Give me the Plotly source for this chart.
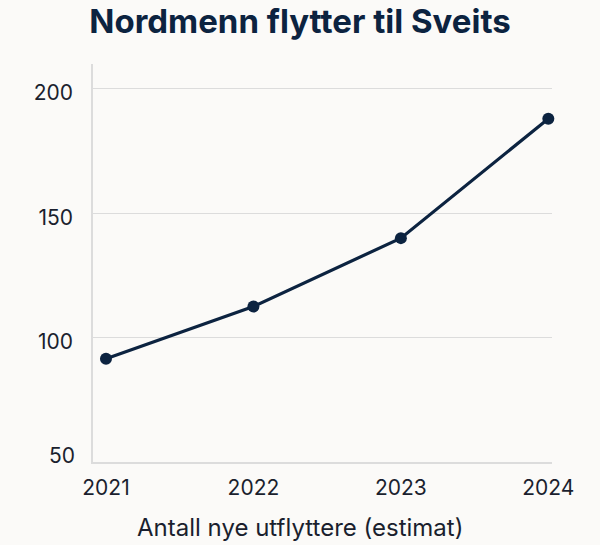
import plotly.graph_objects as go

years = [2021, 2022, 2023, 2024]
values = [91.5, 112.5, 140, 188]
y_ticks = [100, 150, 200]
y_tick_text = ["100", "150", "200"]
bottom_tick = 50

title_text = "Nordmenn flytter til Sveits"
x_title = "Antall nye utflyttere (estimat)"

navy = "#0c2340"
text_col = "#1a1f2e"
grid_col = "#dcdcdc"
bg = "#fbfaf8"

W, H = 600, 545
ML, MR, MT, MB = 93, 48, 64, 83

fig = go.Figure()
fig.add_trace(go.Scatter(
    x=years, y=values, mode="lines+markers",
    line=dict(color=navy, width=3.2),
    marker=dict(color=navy, size=12),
    cliponaxis=False,
    hoverinfo="skip", showlegend=False,
))

fig.update_layout(
    width=W, height=H,
    paper_bgcolor=bg, plot_bgcolor=bg,
    margin=dict(l=ML, r=MR, t=MT, b=MB, autoexpand=False),
    font=dict(family="Inter, Lato, sans-serif", color=text_col, size=20),
    title=dict(text="<b>" + title_text + "</b>", x=0.5, xanchor="center",
               y=1 - 21 / H, yanchor="middle", yref="container",
               font=dict(family="Inter, sans-serif", size=33, color=navy)),
    xaxis=dict(
        range=[2020.912, 2024.025],
        tickvals=years, ticktext=[str(y) for y in years],
        showgrid=False, zeroline=False, automargin=False,
        showline=True, linecolor=grid_col, linewidth=1.5,
        ticks="", ticklabelstandoff=6,
        tickfont=dict(size=21),
    ),
    yaxis=dict(
        range=[50, 210],
        tickvals=y_ticks, ticktext=y_tick_text,
        showgrid=True, gridcolor=grid_col, gridwidth=1,
        zeroline=False, automargin=False,
        showline=True, linecolor=grid_col, linewidth=1.5,
        ticks="", ticklabelstandoff=14, ticklabelshift=4,
        tickfont=dict(size=21),
    ),
)

# x-axis title, centred on the whole figure like the reference
fig.add_annotation(
    x=(W / 2 - ML) / (W - ML - MR), xref="paper", xanchor="center",
    y=0, yref="paper", yanchor="middle", yshift=-65,
    text=x_title, showarrow=False,
    font=dict(size=24, color=text_col),
)

fig.add_annotation(
    x=0, xref="paper", xanchor="right", xshift=-16,
    y=bottom_tick, yref="y", yanchor="middle", yshift=7,
    text=str(bottom_tick), showarrow=False,
    font=dict(size=21, color=text_col),
)

fig.write_html("out.html", config={"displayModeBar": False},
               post_script="document.body.style.margin='0';document.body.style.background='%s';" % bg)
